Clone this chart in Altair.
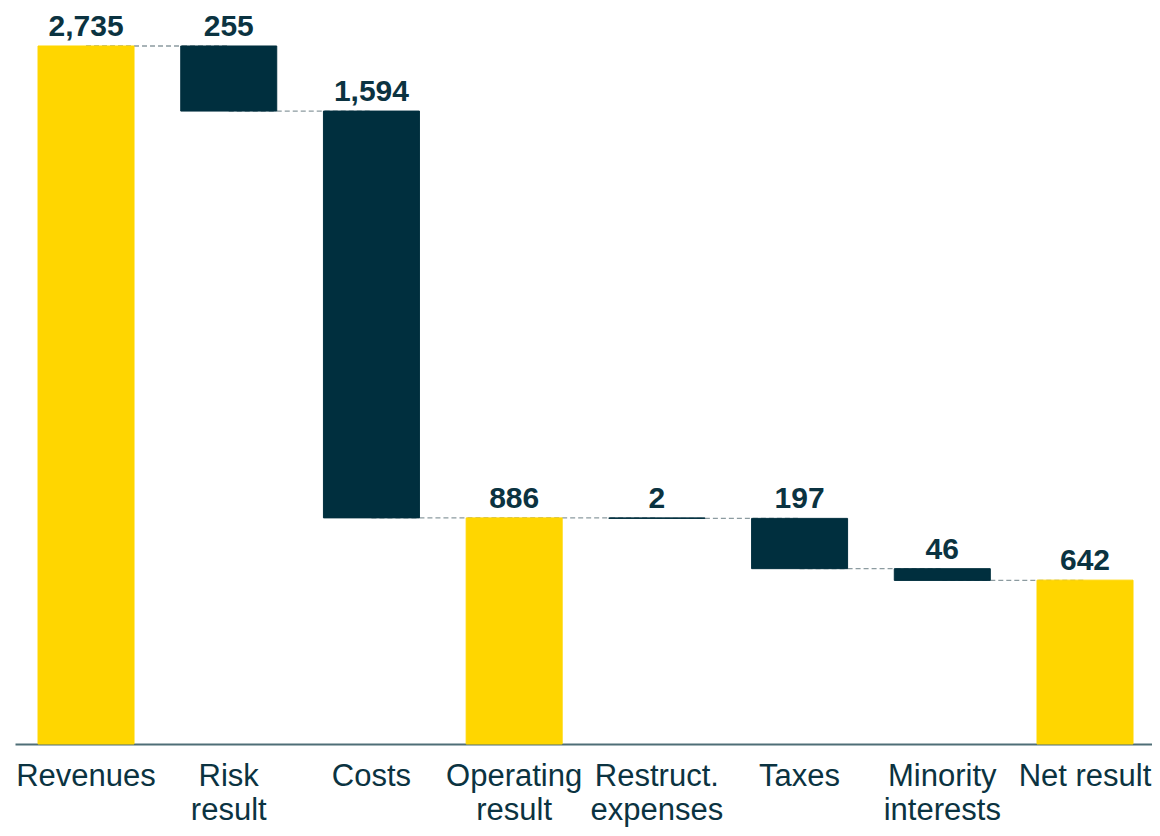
import altair as alt
import pandas as pd

categories = ["Revenues", "Risk result", "Costs", "Operating result",
              "Restruct. expenses", "Taxes", "Minority interests", "Net result"]
axis_labels = ["Revenues", "Risk|result", "Costs", "Operating|result",
               "Restruct.|expenses", "Taxes", "Minority|interests", "Net result"]
values = [2735, 255, 1594, 886, 2, 197, 46, 642]
kinds = ["total", "decrease", "decrease", "total", "decrease", "decrease", "decrease", "total"]

YELLOW = "#FFD600"
DARK = "#002F3E"
TEXT = "#0B3341"

rows = []
running = 0
for c, lab, v, k in zip(categories, axis_labels, values, kinds):
    if k == "total":
        start, end = 0, v
        running = v
    else:
        start, end = running, running - v
        running = end
    rows.append(dict(name=c, cat=lab, value=v, kind=k, start=start, end=end,
                     top=max(start, end), level=running))
df = pd.DataFrame(rows)

conn_rows = []
for i in range(len(rows) - 1):
    conn_rows.append(dict(cid=i, cat=rows[i]["cat"], level=rows[i]["level"]))
    conn_rows.append(dict(cid=i, cat=rows[i + 1]["cat"], level=rows[i]["level"]))
conn = pd.DataFrame(conn_rows)

xscale = alt.Scale(domain=axis_labels, paddingInner=0.3273, paddingOuter=0.1472, align=0.548)
yscale = alt.Scale(domain=[0, 2876], nice=False, zero=True)
cscale = alt.Scale(domain=["total", "decrease"], range=[YELLOW, DARK])

xaxis = alt.Axis(title=None, labelExpr="split(datum.value, '|')", labelFont="Liberation Sans",
                 labelFontSize=31, labelColor=TEXT, labelLineHeight=34, labelAngle=0,
                 labelBaseline="top", labelPadding=17, ticks=False, domainColor="#4F6E77",
                 domainWidth=2, labelLimit=400, labelOverlap=False)

lines = alt.Chart(conn).mark_line(strokeDash=[5, 3], color="#8C9BA0", strokeWidth=1.3).encode(
    x=alt.X("cat:N", sort=axis_labels, scale=xscale, axis=xaxis),
    y=alt.Y("level:Q", scale=yscale, axis=None),
    detail="cid:N",
)

bars = alt.Chart(df).mark_bar(strokeWidth=1).encode(
    x=alt.X("cat:N", sort=axis_labels, scale=xscale, axis=xaxis),
    y=alt.Y("start:Q", scale=yscale, axis=None),
    y2="end:Q",
    color=alt.Color("kind:N", scale=cscale, legend=None),
    stroke=alt.Stroke("kind:N", scale=cscale, legend=None),
)

labels = alt.Chart(df).mark_text(dy=-10, baseline="alphabetic", fontSize=30, fontWeight="bold",
                                 font="Liberation Sans", color=TEXT).encode(
    x=alt.X("cat:N", sort=axis_labels, scale=xscale),
    y=alt.Y("top:Q", scale=yscale),
    text=alt.Text("value:Q", format=","),
)

chart = alt.layer(lines, bars, labels).properties(
    width=1137, height=734,
    autosize=alt.AutoSizeParams(type="none"),
    padding={"left": 7, "top": 2, "right": 0, "bottom": 84},
).configure_view(strokeWidth=0)

chart.save("out.html", embed_options={"renderer": "svg", "actions": False})
